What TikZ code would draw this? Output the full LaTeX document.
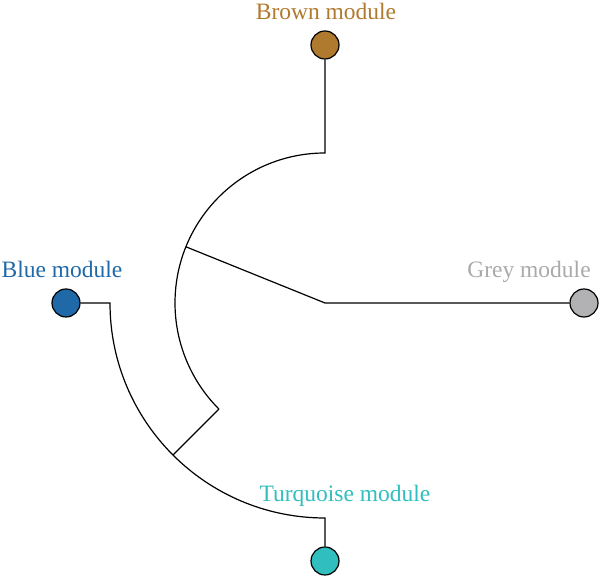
\documentclass[tikz,border=0pt]{standalone}
\usepackage{fontspec}
\setmainfont{Liberation Serif}
\usetikzlibrary{calc}
\definecolor{brownm}{RGB}{176,122,46}
\definecolor{bluem}{RGB}{31,105,168}
\definecolor{turqm}{RGB}{49,190,190}
\definecolor{greym}{RGB}{178,178,180}
\definecolor{greytext}{RGB}{170,170,170}
\tikzset{
  modcircle/.style={circle, draw=black, line width=1.2pt, minimum size=28pt, inner sep=0pt},
  branch/.style={draw=black, line width=1.2pt},
  modlabel/.style={anchor=base, inner sep=0pt, font=\fontsize{23.5}{28}\selectfont}
}
\begin{document}
\begin{tikzpicture}[x=1pt,y=1pt]
\useasboundingbox (0,0) rectangle (600,577);
\coordinate (C) at (325,274);
% module circles
\node[modcircle, fill=brownm] (brown) at (325,532) {};
\node[modcircle, fill=bluem] (blue) at (66,274) {};
\node[modcircle, fill=greym] (grey) at (584,274) {};
\node[modcircle, fill=turqm] (turq) at (325,16) {};
% labels
\node[modlabel, text=brownm] (lbrown) at (326,557) {Brown module};
\node[modlabel, text=bluem] (lblue) at (62,299) {Blue module};
\node[modlabel, text=greytext] (lgrey) at (529,299) {Grey module};
\node[modlabel, text=turqm] (lturq) at (345,75) {Turquoise module};
% junctions
\coordinate (btop) at ($(C)+(90:150)$);
\coordinate (jg) at ($(C)+(158:150)$);
\coordinate (jin) at ($(C)+(225:150)$);
\coordinate (jout) at ($(C)+(225:215)$);
\coordinate (bstart) at ($(C)+(180:215)$);
\coordinate (tend) at ($(C)+(270:215)$);
% branches
\draw[branch] (brown) -- (btop) arc[start angle=90, end angle=225, radius=150pt];
\draw[branch] (jg) -- (C) -- (grey);
\draw[branch] (jin) -- (jout);
\draw[branch] (blue) -- (bstart) arc[start angle=180, end angle=270, radius=215pt] -- (turq);
\end{tikzpicture}
\end{document}
